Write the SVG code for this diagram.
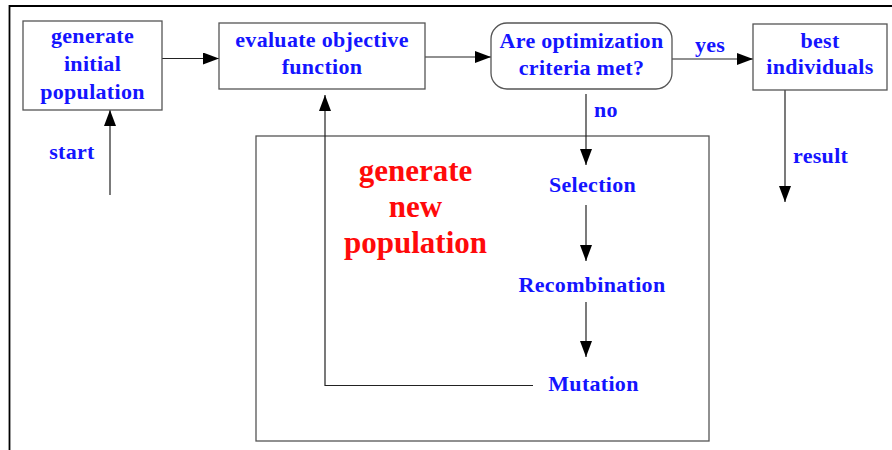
<svg xmlns="http://www.w3.org/2000/svg" width="892" height="450" viewBox="0 0 892 450">
<style>
.box{fill:#fff;stroke:#555;stroke-width:1.3}
.t{font-family:'Liberation Serif','Times New Roman',serif;font-weight:bold;font-size:22px;fill:#1414ff;text-anchor:middle;letter-spacing:0.3px}
.l{text-anchor:start}
.red{fill:#ff0a0a;font-size:31px;letter-spacing:0}
.c{fill:none;stroke:#222;stroke-width:1.2}
</style>
<defs>
<marker id="ah" viewBox="0 0 16 12" refX="16" refY="6" markerWidth="16" markerHeight="12" markerUnits="userSpaceOnUse" orient="auto">
<path d="M0,0 L16,6 L0,12 z" fill="#000"/>
</marker>
</defs>
<rect width="892" height="450" fill="#fff"/>
<g id="frame">
<path d="M9.5,450 V6 H892" fill="none" stroke="#000" stroke-width="1.8"/>
</g>
<g id="inner-box">
<rect x="256" y="136" width="453" height="305" fill="none" stroke="#555" stroke-width="1.3"/>
</g>
<g id="connectors">
<line class="c" x1="110" y1="195" x2="110" y2="110" marker-end="url(#ah)"/>
<line class="c" x1="162" y1="58.5" x2="219" y2="58.5" marker-end="url(#ah)"/>
<line class="c" x1="425" y1="57" x2="491" y2="57" marker-end="url(#ah)"/>
<line class="c" x1="672" y1="59" x2="753" y2="59" marker-end="url(#ah)"/>
<line class="c" x1="785" y1="90" x2="785" y2="202" marker-end="url(#ah)"/>
<line class="c" x1="586" y1="94" x2="586" y2="165" marker-end="url(#ah)"/>
<line class="c" x1="586" y1="205" x2="586" y2="261" marker-end="url(#ah)"/>
<line class="c" x1="586" y1="302" x2="586" y2="357" marker-end="url(#ah)"/>
<polyline class="c" points="533,385.5 325,385.5 325,95" marker-end="url(#ah)"/>
</g>
<g id="n-init">
<rect class="box" x="23" y="21" width="139" height="89"/>
<text class="t" x="92.5" y="43">generate</text>
<text class="t" x="92.5" y="71">initial</text>
<text class="t" x="92.5" y="99">population</text>
</g>
<g id="n-eval">
<rect class="box" x="219" y="23" width="206" height="66"/>
<text class="t" x="322" y="47">evaluate objective</text>
<text class="t" x="322" y="74">function</text>
</g>
<g id="n-criteria">
<rect class="box" x="491" y="23" width="181" height="66" rx="16" ry="16"/>
<text class="t" x="581.5" y="48">Are optimization</text>
<text class="t" x="581.5" y="75">criteria met?</text>
</g>
<g id="n-best">
<rect class="box" x="753" y="24" width="134" height="66"/>
<text class="t" x="820" y="48">best</text>
<text class="t" x="820" y="74">individuals</text>
</g>
<g id="labels">
<text class="t" x="72" y="159">start</text>
<text class="t l" x="695" y="52">yes</text>
<text class="t l" x="594" y="117">no</text>
<text class="t l" x="793" y="163">result</text>
</g>
<g id="n-selection"><text class="t" x="592.5" y="192">Selection</text></g>
<g id="n-recombination"><text class="t" x="592" y="292">Recombination</text></g>
<g id="n-mutation"><text class="t" x="593.5" y="390.5">Mutation</text></g>
<g id="title-red">
<text class="t red" x="415.5" y="181">generate</text>
<text class="t red" x="415.5" y="217">new</text>
<text class="t red" x="415.5" y="253">population</text>
</g>
</svg>
